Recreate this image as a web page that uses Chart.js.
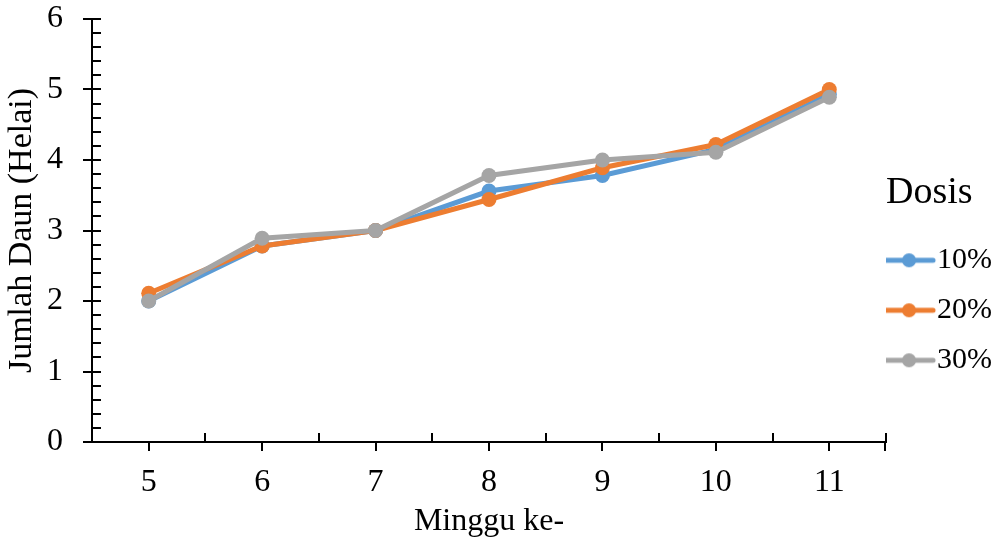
<!DOCTYPE html>
<html>
<head>
<meta charset="utf-8">
<script src="https://cdn.jsdelivr.net/npm/chart.js@4.4.1/dist/chart.umd.min.js"></script>
<style>
  html, body { margin: 0; padding: 0; background: #fff; }
</style>
</head>
<body>
<canvas id="graph" width="1002" height="543"></canvas>
<script>
// Jumlah daun per minggu, tiga dosis
const weeks = ['5', '6', '7', '8', '9', '10', '11'];
const dosis10 = [2.00, 2.78, 3.00, 3.56, 3.78, 4.15, 4.93];
const dosis20 = [2.11, 2.78, 3.00, 3.44, 3.89, 4.22, 5.00];
const dosis30 = [2.00, 2.89, 3.00, 3.78, 4.00, 4.11, 4.89];
const seriesNames = ['10%', '20%', '30%'];
const colors = ['#5B9BD5', '#ED7D31', '#A5A5A5'];

const serif = "'Liberation Serif', 'Times New Roman', serif";

// small line-with-dot icon for the legend
function legendIcon(color) {
    const c = document.createElement('canvas');
    c.width = 80;
    c.height = 16;
    const g = c.getContext('2d');
    g.strokeStyle = color;
    g.lineWidth = 5;
    g.lineCap = 'round';
    g.beginPath();
    g.moveTo(21, 8);
    g.lineTo(69, 8);
    g.stroke();
    g.fillStyle = color;
    g.beginPath();
    g.arc(45, 8, 7, 0, Math.PI * 2);
    g.fill();
    return c;
}
const icons = colors.map(legendIcon);

// inward tick marks (minor on y, between-category on x)
const innerTicks = {
    id: 'innerTicks',
    beforeDatasetsDraw(chart) {
        const {ctx, chartArea, scales: {x, y}} = chart;
        ctx.save();
        ctx.strokeStyle = '#000';
        ctx.lineWidth = 2;
        ctx.beginPath();
        for (let i = 1; i <= 30; i++) {
            const py = Math.round(y.getPixelForValue(i / 5));
            ctx.moveTo(chartArea.left, py);
            ctx.lineTo(chartArea.left + 9, py);
        }
        const step = x.getPixelForValue(1) - x.getPixelForValue(0);
        for (let i = 1; i <= weeks.length; i++) {
            const px = Math.round(x.getPixelForValue(i) - step / 2);
            ctx.moveTo(px, chartArea.bottom);
            ctx.lineTo(px, chartArea.bottom - 9);
        }
        const rx = Math.round(chartArea.right) - 1;
        ctx.moveTo(rx, chartArea.bottom);
        ctx.lineTo(rx, chartArea.bottom + 9);
        ctx.stroke();
        ctx.restore();
    }
};

const allSeries = [dosis10, dosis20, dosis30];

new Chart(document.getElementById('graph'), {
    type: 'line',
    data: {
        labels: weeks,
        datasets: allSeries.map((vals, i) => ({
            label: seriesNames[i],
            data: vals,
            borderColor: colors[i],
            backgroundColor: colors[i],
            borderWidth: 5,
            pointRadius: 7.5,
            pointHoverRadius: 7.5,
            pointBorderWidth: 0,
            pointBackgroundColor: colors[i],
            tension: 0,
            fill: false,
            order: 2 - i
        }))
    },
    options: {
        responsive: false,
        animation: false,
        layout: { padding: { top: 0, left: 0, right: 0, bottom: 0 } },
        scales: {
            x: {
                offset: true,
                grid: { offset: false, drawOnChartArea: false, drawTicks: true, tickLength: 9, color: '#000', lineWidth: 2 },
                border: { color: '#000', width: 2 },
                ticks: { color: '#000', padding: 12, font: { family: serif, size: 32 } },
                title: { display: true, text: 'Minggu ke-', color: '#000', padding: { top: 0, bottom: 2 }, font: { family: serif, size: 32 } },
                afterFit(scale) { scale.height = 101; }
            },
            y: {
                min: 0,
                max: 6,
                ticks: { stepSize: 1, color: '#000', padding: 20, font: { family: serif, size: 32 } },
                grid: { drawOnChartArea: false, drawTicks: true, tickLength: 9, color: '#000', lineWidth: 2 },
                border: { color: '#000', width: 2 },
                title: { display: true, text: 'Jumlah Daun (Helai)', color: '#000', padding: { top: 2, bottom: 0 }, font: { family: serif, size: 34 } },
                afterFit(scale) {
                    scale.width = 92;
                    scale.paddingTop = 19;
                    scale.paddingBottom = 0;
                }
            }
        },
        plugins: {
            tooltip: { enabled: false },
            legend: {
                position: 'right',
                align: 'center',
                title: {
                    display: true,
                    text: 'Dosis',
                    position: 'start',
                    color: '#000',
                    padding: { top: 26, bottom: 26 },
                    font: { family: serif, size: 38 }
                },
                labels: {
                    usePointStyle: true,
                    pointStyleWidth: 36,
                    padding: 0,
                    color: '#000',
                    font: { family: serif, size: 30, lineHeight: 50 / 30 },
                    generateLabels: chart => chart.data.datasets.map((ds, i) => ({
                        text: [ds.label],
                        fillStyle: ds.borderColor,
                        strokeStyle: ds.borderColor,
                        fontColor: '#000',
                        lineWidth: 0,
                        pointStyle: icons[i],
                        hidden: !chart.isDatasetVisible(i),
                        datasetIndex: i
                    }))
                }
            }
        }
    },
    plugins: [innerTicks]
});
</script>
</body>
</html>
